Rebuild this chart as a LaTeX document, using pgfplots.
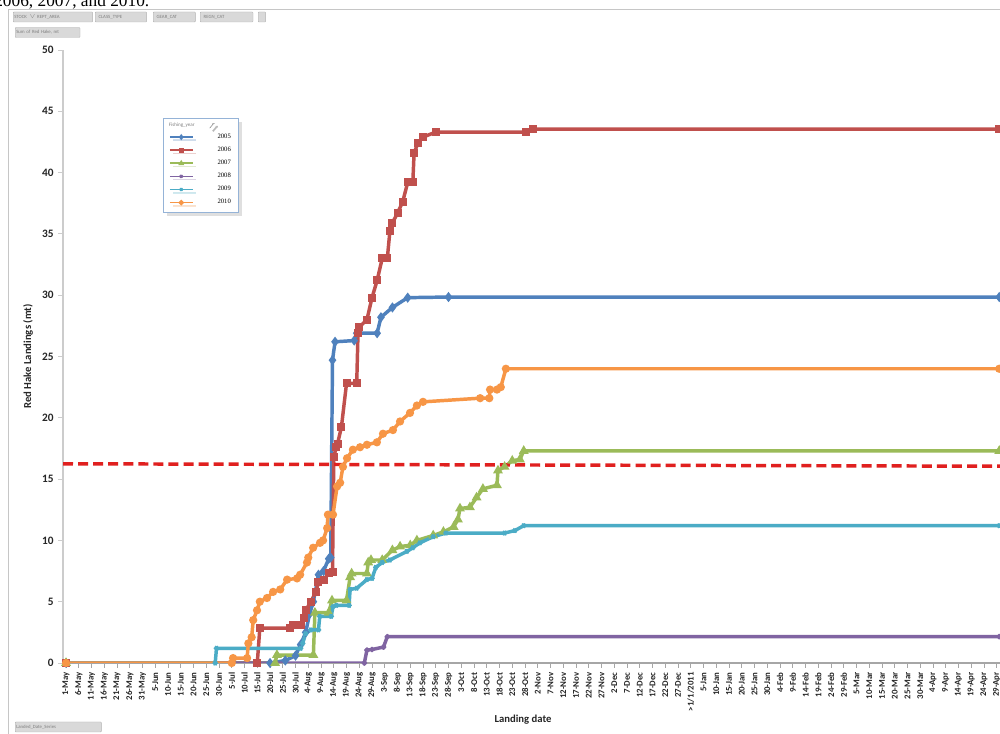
\documentclass[border=0pt]{standalone}
\usepackage{pgfplots}
\pgfplotsset{compat=1.18}
\usepackage{fontspec}
\setmainfont{Carlito}
\newfontfamily\seriffont{Liberation Serif}
\usetikzlibrary{shadows}
\definecolor{s05}{HTML}{4F81BD}
\definecolor{s06}{HTML}{C0504D}
\definecolor{s07}{HTML}{9BBB59}
\definecolor{s08}{HTML}{8064A2}
\definecolor{s09}{HTML}{4BACC6}
\definecolor{s10}{HTML}{F79646}
\definecolor{legbd}{HTML}{95B3D7}
\definecolor{btn}{HTML}{D9D9D9}
\definecolor{btntxt}{HTML}{7F7F7F}
\definecolor{refred}{HTML}{E0201F}
\begin{document}
\begin{tikzpicture}[x=0.75pt,y=0.75pt]
\useasboundingbox (0,0) rectangle (1000,734);
\clip (0,0) rectangle (1000,734);
\fill[white] (0,0) rectangle (1000,734);
% cropped caption text at the very top
\node[anchor=base west, inner sep=0, font=\seriffont\fontsize{13}{13}\selectfont] at (-6,727) {2006, 2007, and 2010.};
% chart area border
\draw[gray!45, line width=0.6pt] (8,0) -- (8,725) -- (1000,725);
% pivot field buttons
\tikzset{btn/.style={fill=btn, draw=gray!60, line width=0.3pt, rounded corners=0.6pt, inner sep=0.8pt, font=\fontsize{3.6}{4}\selectfont, text=btntxt, anchor=west, minimum height=7.5pt}}
\node[btn, text width=58pt] at (13,717) {STOCK \,$\vee$ REPT\_AREA};
\node[btn, text width=37pt] at (95,717) {\,\,\,CLASS\_TYPE};
\node[btn, text width=30pt] at (153,717) {\,\,\,GEAR\_CAT};
\node[btn, text width=38pt] at (200,717) {\,\,\,REGN\_CAT};
\node[btn, text width=4pt] at (258,717) {};
\node[btn, text width=47pt] at (15,701.5) {Sum of Red Hake, mt};
\node[btn, text width=63pt] at (15,7) {Landed\_Date\_Series};
\begin{axis}[
  at={(47.25pt,53.25pt)}, anchor=south west,
  scale only axis, width=702.75pt, height=459.75pt,
  xmin=-1.2, xmax=366.3, ymin=0, ymax=50,
  axis x line=bottom, axis y line=left,
  x axis line style={-, draw=gray!70, line width=0.8pt},
  y axis line style={-, draw=gray!40, line width=0.8pt},
  tick align=outside, major tick length=3.5pt,
  x tick style={draw=gray!70, line width=0.5pt},
  y tick style={draw=gray!40, line width=0.6pt},
  /pgf/number format/assume math mode=true,
  ytick={0,5,...,50},
  yticklabel style={font=\bfseries\fontsize{8.5}{9}\selectfont, text=black!85},
  xtick={0,5,...,365},
  xticklabels={1-May,6-May,11-May,16-May,21-May,26-May,31-May,5-Jun,10-Jun,15-Jun,20-Jun,25-Jun,30-Jun,5-Jul,10-Jul,15-Jul,20-Jul,25-Jul,30-Jul,4-Aug,9-Aug,14-Aug,19-Aug,24-Aug,29-Aug,3-Sep,8-Sep,13-Sep,18-Sep,23-Sep,28-Sep,3-Oct,8-Oct,13-Oct,18-Oct,23-Oct,28-Oct,2-Nov,7-Nov,12-Nov,17-Nov,22-Nov,27-Nov,2-Dec,7-Dec,12-Dec,17-Dec,22-Dec,27-Dec,>1/1/2011,5-Jan,10-Jan,15-Jan,20-Jan,25-Jan,30-Jan,4-Feb,9-Feb,14-Feb,19-Feb,24-Feb,29-Feb,5-Mar,10-Mar,15-Mar,20-Mar,25-Mar,30-Mar,4-Apr,9-Apr,14-Apr,19-Apr,24-Apr,29-Apr},
  xticklabel style={rotate=90, anchor=east, font=\bfseries\fontsize{6.6}{7}\selectfont, text=black!85},
  ylabel={Red Hake Landings (mt)},
  ylabel style={at={(axis description cs:-0.0374,0.5)}, anchor=center, font=\bfseries\fontsize{8}{9}\selectfont, text=black!85},
  xlabel={Landing date},
  xlabel style={at={(axis description cs:0.491,-0.093)}, anchor=center, font=\bfseries\fontsize{8}{9}\selectfont, text=black!85},
  legend style={at={(axis description cs:0.1067,0.889)}, anchor=north west,
    draw=legbd, line width=0.8pt, fill=white, drop shadow={opacity=0.25},
    font=\seriffont\fontsize{5}{5.5}\selectfont, row sep=1pt,
    inner xsep=4pt, inner ysep=3pt},
  legend cell align=left,
  legend image post style={line width=1.3pt, mark size=1.3pt},
  every axis plot/.append style={line width=2.6pt, mark size=1.7pt, mark options={solid}},
]
\addlegendimage{legend image code/.code={%
  \node[anchor=west, inner sep=0, font=\fontsize{3.8}{4}\selectfont, text=gray] at (-0.05cm,0) {Fishing\_year};
  \draw[gray, line width=0.4pt] (1.05cm,-0.05cm) -- (1.15cm,0.07cm) (1.12cm,0.07cm) -- (1.18cm,0.07cm);}}
\addlegendentry{}
% 2005
\addplot[color=s05, mark=diamond*] coordinates {
(0,0) (80,0) (86,0.2) (90,0.6) (92,1.5) (94,2.5) (95.5,4) (97,5) (99,7.2) (101,7.5) (103,8.5) (103.8,8.6)
(104.5,24.7) (105.5,26.2) (113,26.3) (114,26.9) (122,26.9) (123.5,28.2) (128,29.0) (134,29.8) (150,29.85) (366,29.85)};
\addlegendentry{2005}
% 2006
\addplot[color=s06, mark=square*] coordinates {
(0,0) (75,0) (76,2.85) (88,2.85) (89,3.1) (92,3.1) (93.5,3.7) (94,4.3) (96,5.0) (98,5.8) (99,6.6) (101,6.8) (103,7.3) (104.5,7.4)
(105,16.8) (106,17.6) (106.5,17.9) (108,19.25) (110,22.8) (114,22.8) (114.5,26.9) (115,27.4) (118,28.0) (120,29.8) (122,31.2)
(124,33.0) (126,33.0) (127,35.2) (128,35.9) (130,36.7) (132,37.6) (134,39.2) (136,39.2) (136.5,41.6) (138,42.4) (140,42.9)
(145,43.3) (180.5,43.3) (183,43.55) (366,43.55)};
\addlegendentry{2006}
% 2007
\addplot[color=s07, mark=triangle*] coordinates {
(0,0) (82,0) (82.7,0.65) (97,0.65) (97.6,4.1) (103,4.1) (104.3,5.1) (110,5.1) (111.4,7.0) (112,7.3) (118,7.3) (118.5,8.2)
(119.6,8.4) (124,8.4) (128,9.2) (131,9.5) (135,9.6) (137.6,10.0) (144,10.4) (148,10.7) (152,11.1) (153.7,11.7) (154.5,12.6)
(158.4,12.7) (161,13.5) (163.5,14.2) (169,14.5) (169.4,15.7) (172,16.0) (175,16.5) (178,16.6) (179.5,17.3) (366,17.3)};
\addlegendentry{2007}
% 2008
\addplot[color=s08, mark=x] coordinates {
(0,0) (117,0) (118,1.05) (120,1.1) (124.5,1.3) (126,2.15) (366,2.15)};
\addlegendentry{2008}
% 2009
\addplot[color=s09, mark=asterisk] coordinates {
(0,0) (58.5,0) (59,1.2) (92,1.2) (92.8,1.6) (94,2.4) (96,2.7) (99,2.7) (99.5,3.8) (104,3.8) (104.7,4.6) (106,4.7) (111,4.7)
(111.4,6.0) (114,6.1) (118,6.8) (120,6.9) (121.5,7.8) (124,8.2) (127,8.4) (133.7,9.1) (136,9.4) (138.8,9.8) (144,10.3)
(149,10.6) (172,10.6) (176,10.8) (179.5,11.2) (366,11.2)};
\addlegendentry{2009}
% 2010
\addplot[color=s10, mark=*] coordinates {
(0,0) (65,0) (65.5,0.4) (71,0.4) (71.5,1.6) (72.8,2.1) (73.4,3.5) (74.9,4.3) (76,5.0) (78.8,5.3) (81.2,5.8) (84,6.0)
(86.7,6.8) (90.6,6.9) (91.8,7.2) (94.5,8.2) (95,8.6) (96.9,9.4) (99.6,9.8) (100.8,10.0) (102.4,11.0) (102.7,12.1) (104.7,12.1)
(106.3,14.4) (107.5,14.7) (108.6,16.0) (110.2,16.7) (112.5,17.4) (115.3,17.6) (118,17.8) (121.9,18.0) (124.3,18.7) (128.2,19.0)
(131,19.7) (134.9,20.4) (137.6,21.0) (140,21.3) (162.4,21.6) (166,21.6) (166.3,22.3) (169,22.3) (170.5,22.5) (172.5,24.0) (366,24.0)};
\addlegendentry{2010}
% reference line
\addplot[color=refred, line width=2.6pt, dash pattern=on 7.5pt off 3.8pt, no marks, forget plot] coordinates {(-1.2,16.25) (366.3,16.05)};
\end{axis}
\end{tikzpicture}
\end{document}
